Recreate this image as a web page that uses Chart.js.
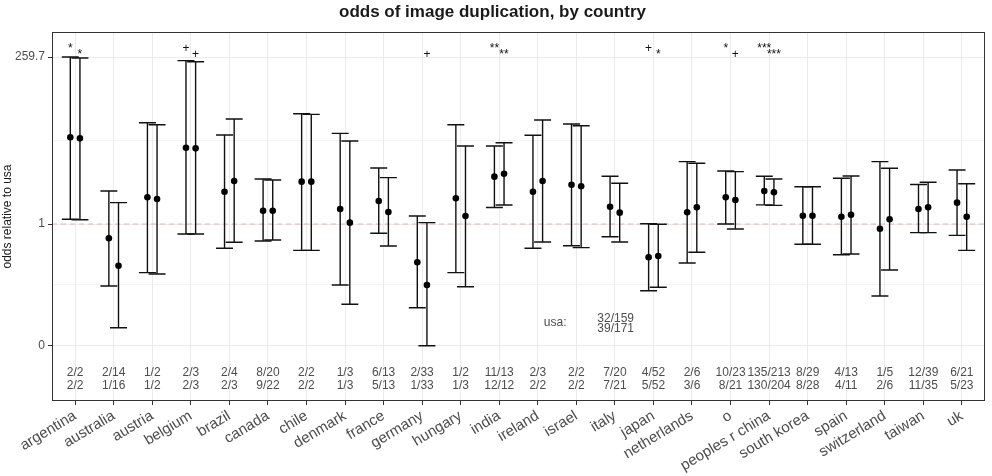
<!DOCTYPE html>
<html>
<head>
<meta charset="utf-8">
<script src="https://cdn.jsdelivr.net/npm/chart.js@4.4.1/dist/chart.umd.min.js"></script>
<style>
  html, body { margin: 0; padding: 0; background: #fff; }
  #wrap { width: 992px; height: 476px; }
</style>
</head>
<body>
<div id="wrap"><canvas id="oddsChart" width="992" height="476"></canvas></div>
<script>
const countries = ['argentina', 'australia', 'austria', 'belgium', 'brazil', 'canada', 'chile', 'denmark',
  'france', 'germany', 'hungary', 'india', 'ireland', 'israel', 'italy', 'japan', 'netherlands', 'o',
  'peoples r china', 'south korea', 'spain', 'switzerland', 'taiwan', 'uk'];

const countsTop = ['2/2', '2/14', '1/2', '2/3', '2/4', '8/20', '2/2', '1/3', '6/13', '2/33', '1/2', '11/13',
  '2/3', '2/2', '7/20', '4/52', '2/6', '10/23', '135/213', '8/29', '4/13', '1/5', '12/39', '6/21'];
const countsBottom = ['2/2', '1/16', '1/2', '2/3', '2/3', '9/22', '2/2', '1/3', '5/13', '1/33', '1/3', '12/12',
  '2/2', '2/2', '7/21', '5/52', '3/6', '8/21', '130/204', '8/28', '4/11', '2/6', '11/35', '5/23'];
const usaCounts = ['32/159', '39/171'];

// values on the transformed odds axis (0 -> "0", 1 -> "1", 2.369 -> "259.7")
const estA  = [1.711, 0.883, 1.219, 1.625, 1.265, 1.109, 1.347, 1.123, 1.189, 0.686, 1.211, 1.388,
  1.265, 1.322, 1.142, 0.727, 1.096, 1.219, 1.270, 1.068, 1.060, 0.961, 1.123, 1.175];
const lowA  = [1.039, 0.492, 0.601, 0.918, 0.801, 0.861, 0.784, 0.500, 0.924, 0.314, 0.601, 1.135,
  0.801, 0.822, 0.896, 0.453, 0.680, 1.000, 1.157, 0.834, 0.748, 0.410, 0.929, 0.907];
const highA = [2.369, 1.270, 1.830, 2.339, 1.730, 1.369, 1.904, 1.743, 1.459, 1.066, 1.814, 1.639,
  1.727, 1.820, 1.391, 1.002, 1.511, 1.434, 1.391, 1.306, 1.375, 1.511, 1.324, 1.443];

const estB  = [1.702, 0.658, 1.205, 1.620, 1.352, 1.109, 1.347, 1.011, 1.098, 0.500, 1.066, 1.412,
  1.352, 1.309, 1.093, 0.738, 1.137, 1.197, 1.260, 1.068, 1.076, 1.039, 1.137, 1.060];
const lowB  = [1.035, 0.150, 0.590, 0.918, 0.850, 0.869, 0.784, 0.342, 0.820, 0.002, 0.486, 1.156,
  0.852, 0.806, 0.852, 0.481, 0.768, 0.959, 1.153, 0.834, 0.754, 0.623, 0.929, 0.784];
const highB = [2.361, 1.175, 1.814, 2.330, 1.861, 1.361, 1.899, 1.680, 1.380, 1.011, 1.639, 1.666,
  1.852, 1.806, 1.334, 0.998, 1.498, 1.429, 1.369, 1.306, 1.393, 1.457, 1.342, 1.330];

const starsA = ['*', '', '', '+', '', '', '', '', '', '', '', '**', '', '', '', '+', '', '*', '***', '', '', '', '', ''];
const starsB = ['*', '', '', '+', '', '', '', '', '', '+', '', '**', '', '', '', '*', '', '+', '***', '', '', '', '', ''];

const yTickValues = [0, 1, 2.369];
const yTickLabels = ['0', '1', '259.7'];
const yMinorValues = [0.5, 1.684];
const refValue = 1;

const dodge = 0.125;
const capHalf = 0.22;
const greyText = '#4d4d4d';

function points(est, shift) {
  return est.map((v, i) => ({ x: i + shift, y: v }));
}

const errorBars = {
  id: 'errorBars',
  beforeDatasetsDraw(chart) {
    const { ctx, chartArea, scales: { x, y } } = chart;
    ctx.save();
    // reference line at odds 1
    ctx.strokeStyle = 'rgba(235,120,120,0.55)';
    ctx.lineWidth = 1;
    ctx.setLineDash([5, 4]);
    const ry = y.getPixelForValue(refValue);
    ctx.beginPath();
    ctx.moveTo(chartArea.left, ry);
    ctx.lineTo(chartArea.right, ry);
    ctx.stroke();
    ctx.setLineDash([]);

    ctx.strokeStyle = '#111';
    ctx.lineWidth = 1.4;
    chart.data.datasets.forEach(ds => {
      ds.data.forEach((p, i) => {
        const px = x.getPixelForValue(p.x);
        const l = x.getPixelForValue(p.x - capHalf);
        const r = x.getPixelForValue(p.x + capHalf);
        const top = y.getPixelForValue(ds.high[i]);
        const bot = y.getPixelForValue(ds.low[i]);
        ctx.beginPath();
        ctx.moveTo(px, top); ctx.lineTo(px, bot);
        ctx.moveTo(l, top); ctx.lineTo(r, top);
        ctx.moveTo(l, bot); ctx.lineTo(r, bot);
        ctx.stroke();
      });
    });
    ctx.restore();
  },
  afterDatasetsDraw(chart) {
    const { ctx, chartArea, scales: { x, y } } = chart;
    ctx.save();
    ctx.textAlign = 'center';
    ctx.textBaseline = 'middle';

    // significance marks
    ctx.fillStyle = '#111';
    ctx.font = '12px "Liberation Sans", Arial, sans-serif';
    countries.forEach((c, i) => {
      if (starsA[i]) ctx.fillText(starsA[i], x.getPixelForValue(i - dodge), y.getPixelForValue(2.439));
      if (starsB[i]) ctx.fillText(starsB[i], x.getPixelForValue(i + dodge), y.getPixelForValue(2.391));
    });

    // counts under each country
    ctx.fillStyle = greyText;
    ctx.font = '12px "Liberation Sans", Arial, sans-serif';
    countries.forEach((c, i) => {
      const px = x.getPixelForValue(i);
      ctx.fillText(countsTop[i], px, y.getPixelForValue(-0.215));
      ctx.fillText(countsBottom[i], px, y.getPixelForValue(-0.322));
    });

    // usa reference counts
    ctx.fillText('usa:', x.getPixelForValue(12.45), y.getPixelForValue(0.189));
    ctx.fillText(usaCounts[0], x.getPixelForValue(14.02), y.getPixelForValue(0.225));
    ctx.fillText(usaCounts[1], x.getPixelForValue(14.02), y.getPixelForValue(0.143));

    // panel border
    ctx.strokeStyle = '#333';
    ctx.lineWidth = 1;
    ctx.strokeRect(chartArea.left + 0.5, chartArea.top + 0.5,
      chartArea.right - chartArea.left - 1, chartArea.bottom - chartArea.top - 1);
    ctx.restore();
  }
};

new Chart(document.getElementById('oddsChart'), {
  type: 'scatter',
  data: {
    datasets: [
      { label: 'first', data: points(estA, -dodge), low: lowA, high: highA },
      { label: 'second', data: points(estB, dodge), low: lowB, high: highB }
    ]
  },
  options: {
    responsive: false,
    animation: false,
    devicePixelRatio: 1,
    layout: { padding: { left: 0, right: 7, top: 0, bottom: 0 } },
    elements: {
      point: { radius: 3.3, backgroundColor: '#000', borderWidth: 0, hoverRadius: 3.3 }
    },
    plugins: {
      legend: { display: false },
      tooltip: { enabled: false },
      title: {
        display: true,
        text: 'odds of image duplication, by country',
        color: '#1a1a1a',
        font: { size: 17, weight: 'bold', family: '"Liberation Sans", Arial, sans-serif' },
        padding: { top: 2, bottom: 9.6 }
      }
    },
    scales: {
      x: {
        type: 'linear',
        min: -0.6,
        max: 23.6,
        afterBuildTicks: s => { s.ticks = countries.map((c, i) => ({ value: i })); },
        afterFit: s => { s.height = 75; },
        border: { display: false },
        grid: { color: '#ebebeb', lineWidth: 1, tickColor: '#333', tickLength: 4 },
        ticks: {
          autoSkip: false,
          maxRotation: 31,
          minRotation: 31,
          padding: 2,
          color: greyText,
          font: { size: 15, family: '"Liberation Sans", Arial, sans-serif' },
          callback: v => countries[v]
        }
      },
      y: {
        min: -0.451,
        max: 2.574,
        afterBuildTicks: s => {
          s.ticks = yTickValues.concat(yMinorValues).sort((a, b) => a - b).map(v => ({ value: v }));
        },
        afterFit: s => { s.width = 52; },
        border: { display: false },
        grid: {
          color: '#ebebeb',
          lineWidth: c => (yMinorValues.includes(c.tick.value) ? 0.6 : 1),
          tickColor: c => (yMinorValues.includes(c.tick.value) ? 'rgba(0,0,0,0)' : '#333'),
          tickLength: 4
        },
        ticks: {
          padding: 3,
          color: greyText,
          font: { size: 12, family: '"Liberation Sans", Arial, sans-serif' },
          callback: v => {
            const k = yTickValues.indexOf(v);
            return k >= 0 ? yTickLabels[k] : '';
          }
        },
        title: {
          display: true,
          text: 'odds relative to usa',
          color: '#1a1a1a',
          padding: { top: 0, bottom: 0 },
          font: { size: 12, family: '"Liberation Sans", Arial, sans-serif' }
        }
      }
    }
  },
  plugins: [errorBars]
});
</script>
</body>
</html>
